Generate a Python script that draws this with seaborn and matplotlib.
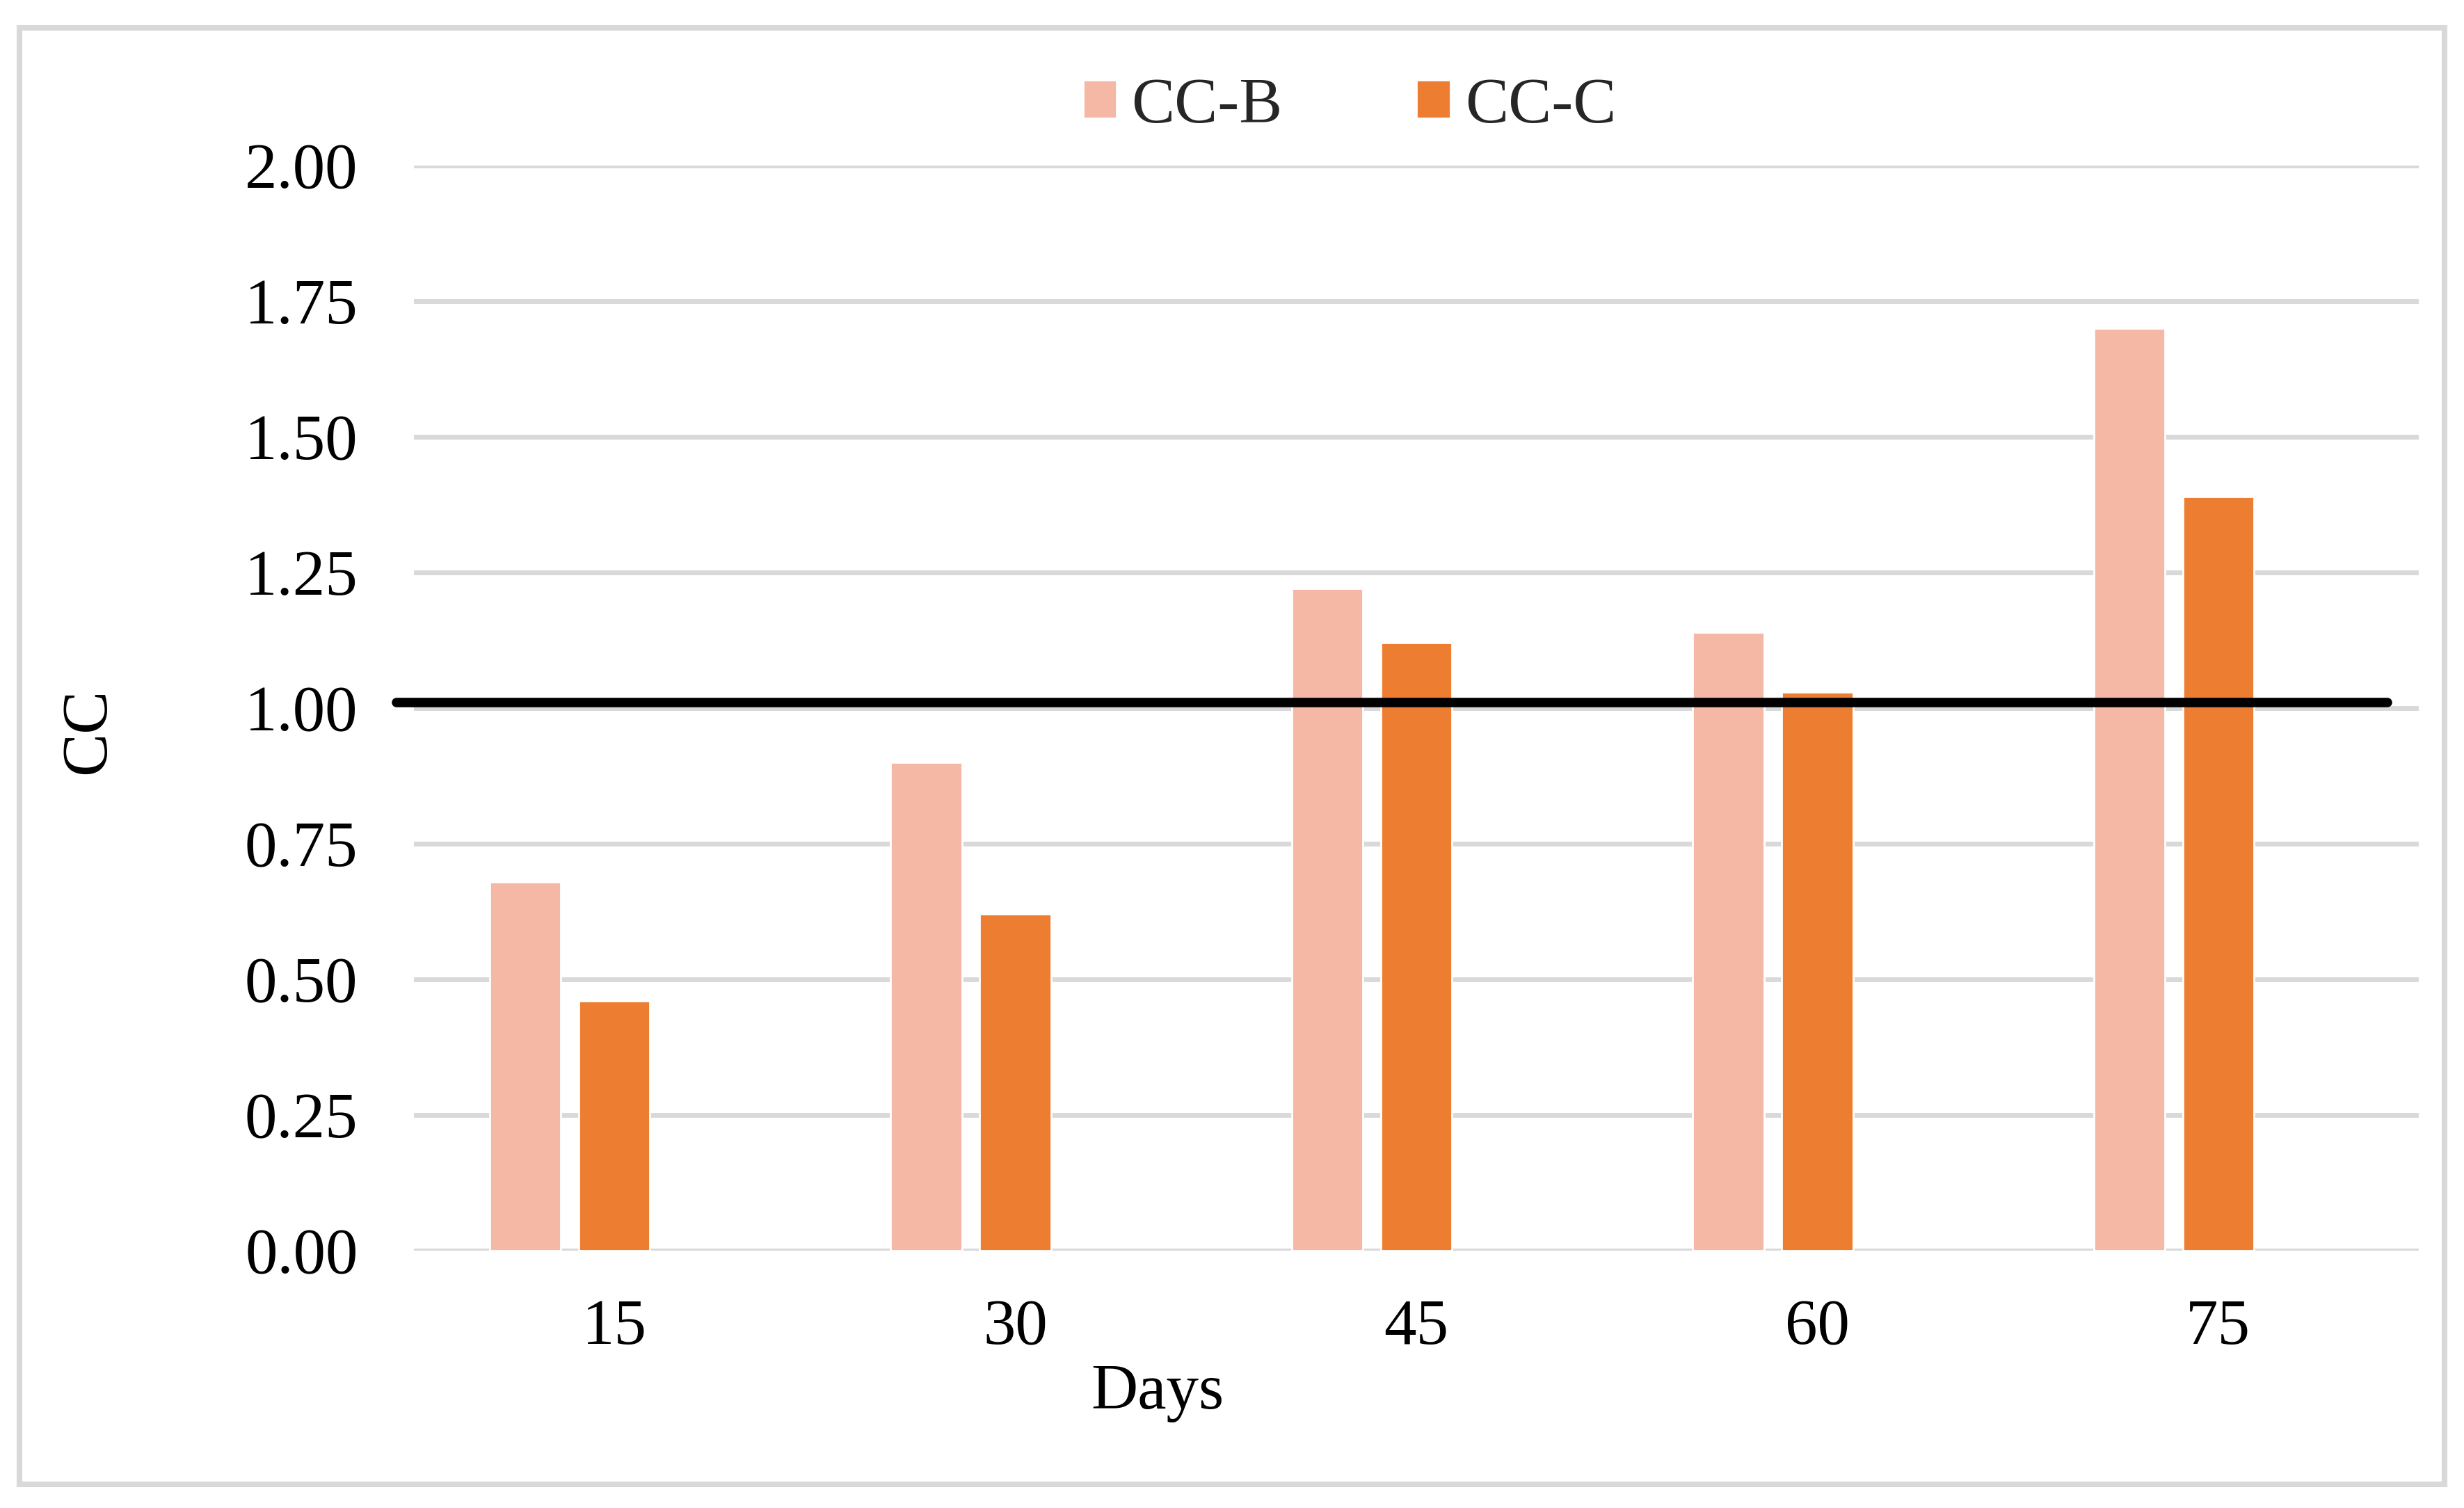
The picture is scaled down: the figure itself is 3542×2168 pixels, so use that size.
import pandas as pd
import seaborn as sns
import matplotlib.pyplot as plt
from matplotlib.patches import Patch, Rectangle

# Data
days = ["15", "30", "45", "60", "75"]
cc_b = [0.68, 0.90, 1.22, 1.14, 1.70]
cc_c = [0.46, 0.62, 1.12, 1.03, 1.39]
ref_value = 1.01
y_ticks = [0.00, 0.25, 0.50, 0.75, 1.00, 1.25, 1.50, 1.75, 2.00]

# Long format for seaborn; a third empty hue level keeps Excel's slot spacing
df = pd.DataFrame({
    "Days": days * 2,
    "CC": cc_b + cc_c,
    "Series": ["CC-B"] * len(days) + ["CC-C"] * len(days),
})
hue_levels = ["CC-B", "CC-C", "Ref"]
colors = {"CC-B": "#F4B8A5", "CC-C": "#ED7D31", "Ref": "white"}

sns.set_theme(style="white")
plt.rcParams["font.family"] = ["Liberation Serif", "DejaVu Serif"]
fs = 33.5

fig, ax = plt.subplots(figsize=(17.71, 10.84), dpi=200)
fig.subplots_adjust(left=595 / 3542, right=3477 / 3542,
                    bottom=1 - 1798 / 2168, top=1 - 238 / 2168)

sns.barplot(data=df, x="Days", y="CC", hue="Series", order=days,
            hue_order=hue_levels, palette=colors, saturation=1,
            width=0.666, gap=0.2, legend=False, errorbar=None, ax=ax,
            zorder=2)

# reference line at CC = 1
ax.axhline(ref_value, xmin=-0.0087, xmax=0.9844, color="black", lw=4.9,
           clip_on=False, zorder=3)

ax.set_ylim(0, 2)
ax.set_xlim(-0.5, len(days) - 0.5)
ax.set_yticks(y_ticks)
ax.set_yticklabels([f"{v:.2f}" for v in y_ticks])
ax.yaxis.grid(True, color="#D9D9D9", lw=2.5, zorder=0)
ax.set_axisbelow(True)
for s in ax.spines.values():
    s.set_visible(False)
ax.tick_params(axis="y", length=0, pad=29, labelsize=fs, labelcolor="black")
ax.tick_params(axis="x", length=0, pad=25, labelsize=fs, labelcolor="black")

ax.set_xlabel("Days", fontsize=fs, color="black")
ax.set_ylabel("CC", fontsize=fs, color="black")
ax.xaxis.set_label_coords(0.371, -0.1038)
ax.yaxis.set_label_coords(-0.1475, 0.479)

handles = [Patch(facecolor=colors["CC-B"], label="CC-B"),
           Patch(facecolor=colors["CC-C"], label="CC-C")]
fig.legend(handles=handles, loc="center", bbox_to_anchor=(0.5477, 0.9294),
           ncol=2, frameon=False, fontsize=fs, handlelength=0.52,
           handleheight=0.52, handletextpad=0.23, columnspacing=2.07,
           borderpad=0)

# light grey chart border
fig.add_artist(Rectangle((28 / 3542, 1 - 2134 / 2168), 3486 / 3542, 2094 / 2168,
                         transform=fig.transFigure, fill=False,
                         edgecolor="#D9D9D9", lw=2.9))

fig.savefig("out.png", dpi=200, facecolor="white")
